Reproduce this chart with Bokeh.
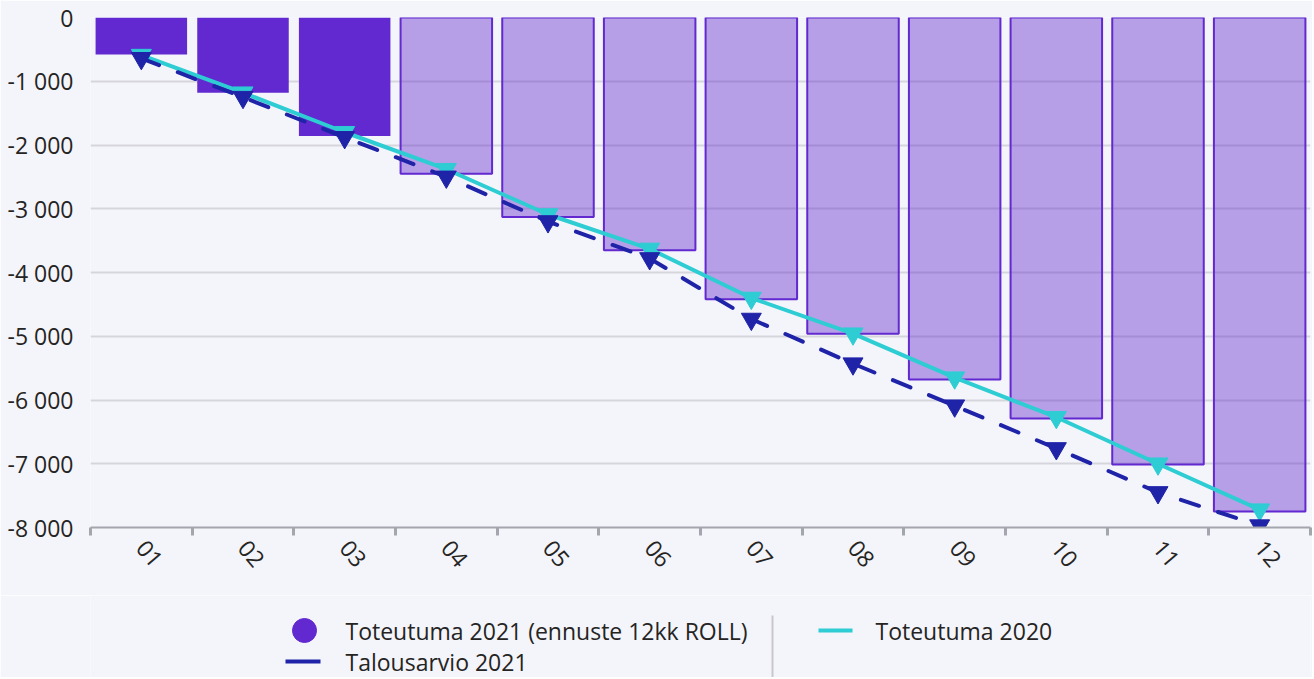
from bokeh.plotting import figure
from bokeh.layouts import column
from bokeh.models import ColumnDataSource, Range1d, FixedTicker
from bokeh.embed import file_html
from bokeh.resources import INLINE
from bokeh.core.properties import value

# ---------------- data ----------------
months = ["01", "02", "03", "04", "05", "06", "07", "08", "09", "10", "11", "12"]
toteutuma_2021 = [-580, -1180, -1860, -2450, -3130, -3650, -4420, -4960, -5680, -6290, -7010, -7750]
n_actual_months = 3  # first months are actuals, rest forecast
toteutuma_2020 = [-590, -1180, -1800, -2380, -3090, -3630, -4400, -4960, -5650, -6270, -7000, -7720]
talousarvio_2021 = [-640, -1250, -1880, -2500, -3200, -3780, -4730, -5430, -6090, -6760, -7450, -7970]
y_ticks = [0, -1000, -2000, -3000, -4000, -5000, -6000, -7000, -8000]
series_names = ["Toteutuma 2021 (ennuste 12kk ROLL)", "Toteutuma 2020", "Talousarvio 2021"]

# ---------------- style ----------------
BG = "#F4F5FA"
PURPLE = "#6129CF"
CYAN = "#2ECCD3"
NAVY = "#1F23A8"
TEXT = "#252423"
AXIS = "#A3A6AD"
FONT = "Open Sans"
FS = "23px"

W = 1312
LEFT = 90
RIGHT_B = 2

xs = list(range(1, len(months) + 1))
bar_alpha = [1.0 if i < n_actual_months else 0.42 for i in range(len(months))]
bar_line = [None if i < n_actual_months else PURPLE for i in range(len(months))]

bars = ColumnDataSource(dict(x=xs, top=[0] * len(xs), bottom=toteutuma_2021,
                             alpha=bar_alpha, line=bar_line))
src20 = ColumnDataSource(dict(x=xs, y=toteutuma_2020))
srcTA = ColumnDataSource(dict(x=xs, y=talousarvio_2021))

p = figure(width=W, height=595, x_range=Range1d(0.5, 12.5), y_range=Range1d(-8000, 0),
           output_backend="svg", toolbar_location=None,
           min_border_left=LEFT, min_border_right=RIGHT_B, min_border_top=17, min_border_bottom=68)
p.background_fill_color = BG
p.border_fill_color = BG
p.outline_line_color = None

p.vbar(x="x", top="top", bottom="bottom", width=0.9, source=bars,
       fill_color=PURPLE, fill_alpha="alpha", line_color="line", line_width=2)

p.line("x", "y", source=src20, line_color=CYAN, line_width=4)
p.scatter("x", "y", source=src20, marker="inverted_triangle", size=20,
          fill_color=CYAN, line_color=CYAN)

p.line("x", "y", source=srcTA, line_color=NAVY, line_width=4, line_dash="19 20", line_cap="round")
p.scatter("x", "y", source=srcTA, marker="inverted_triangle", size=20,
          fill_color=NAVY, line_color=NAVY)

# y axis
p.yaxis.ticker = FixedTicker(ticks=y_ticks)
p.yaxis.major_label_overrides = {t: ("0" if t == 0 else "-" + f"{abs(t):,}".replace(",", " ")) for t in y_ticks}
p.yaxis.axis_line_color = None
p.yaxis.major_tick_line_color = None
p.yaxis.minor_tick_line_color = None
p.yaxis.major_label_text_font = FONT
p.yaxis.major_label_text_font_size = FS
p.yaxis.major_label_text_color = TEXT
p.yaxis.major_label_standoff = 11

p.ygrid.grid_line_color = "#D5D6DB"
p.ygrid.grid_line_width = 2
p.xgrid.grid_line_color = None

# x axis
p.xaxis.ticker = FixedTicker(ticks=xs, minor_ticks=[x - 0.5 for x in xs] + [12.5])
p.xaxis.major_label_overrides = {x: m for x, m in zip(xs, months)}
p.xaxis.axis_line_color = AXIS
p.xaxis.axis_line_width = 2
p.xaxis.major_tick_line_color = None
p.xaxis.minor_tick_line_color = AXIS
p.xaxis.minor_tick_line_width = 3
p.xaxis.minor_tick_out = 8
p.xaxis.minor_tick_in = 0
p.xaxis.major_label_orientation = -0.87
p.xaxis.major_label_text_font = FONT
p.xaxis.major_label_text_font_size = FS
p.xaxis.major_label_text_color = TEXT
p.xaxis.major_label_standoff = 8

# ---------------- legend ----------------
LH = 82
lf = figure(width=W, height=LH, x_range=Range1d(LEFT, W - RIGHT_B), y_range=Range1d(LH, 0),
            output_backend="svg", toolbar_location=None,
            x_axis_location=None, y_axis_location=None,
            min_border_left=LEFT, min_border_right=RIGHT_B, min_border_top=0, min_border_bottom=0)
lf.background_fill_color = BG
lf.border_fill_color = BG
lf.outline_line_color = None
lf.grid.grid_line_color = None

lf.scatter(x=[304], y=[35], marker="circle", size=24, fill_color=PURPLE, line_color=PURPLE)
lf.segment(x0=[818], y0=[35], x1=[852], y1=[35], line_color=CYAN, line_width=4)
lf.segment(x0=[285], y0=[66], x1=[320], y1=[66], line_color=NAVY, line_width=4)
lf.segment(x0=[772], y0=[20], x1=[772], y1=[LH], line_color="#C8C8CC", line_width=2)
lf.text(x=[345, 875, 345], y=[35, 35, 66], text=series_names,
        text_baseline="middle", text_align="left",
        text_font=value(FONT), text_font_size=FS, text_color=TEXT)

layout = column(p, lf, spacing=0)
open("out.html", "w").write(file_html(layout, INLINE))
